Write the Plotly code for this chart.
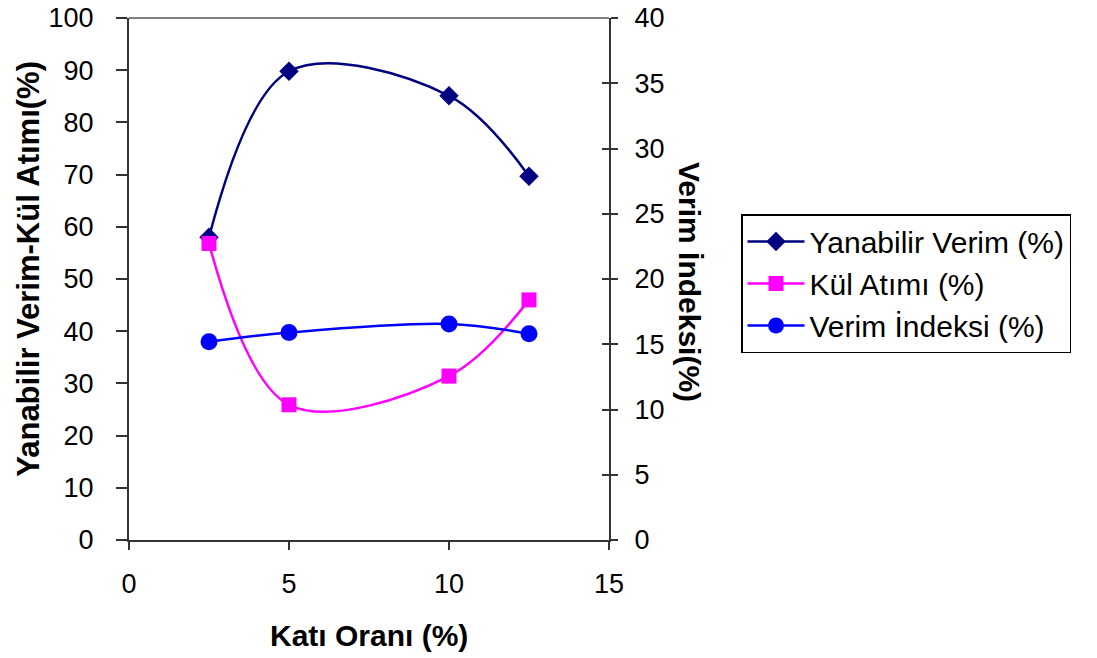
import plotly.graph_objects as go

kati = [2.5, 5, 10, 12.5]
yanabilir = [58.0, 89.8, 85.1, 69.7]
kul = [56.8, 25.9, 31.4, 46.0]
indeks = [15.2, 15.9, 16.55, 15.8]

FONT = "Liberation Sans, Arial, sans-serif"
TICK_FS = 27
TITLE_FS = 30
LEG_FS = 30

fig = go.Figure()
fig.add_trace(go.Scatter(x=kati, y=yanabilir, name="Yanabilir Verim (%)", mode="lines+markers",
                         line=dict(color="#000080", width=2.5, shape="spline", smoothing=1),
                         marker=dict(symbol="diamond", size=15, color="#000080"),
                         legendgroup="a", yaxis="y"))
fig.add_trace(go.Scatter(x=kati, y=kul, name="Kül Atımı (%)", mode="lines+markers",
                         line=dict(color="#FF00FF", width=2.5, shape="spline", smoothing=1),
                         marker=dict(symbol="square", size=15, color="#FF00FF"),
                         legendgroup="b", yaxis="y"))
fig.add_trace(go.Scatter(x=kati, y=indeks, name="Verim İndeksi (%)", mode="lines+markers",
                         line=dict(color="#0000FF", width=2.5, shape="spline", smoothing=1),
                         marker=dict(symbol="circle", size=17, color="#0000FF"),
                         legendgroup="c", yaxis="y2"))
fig.add_trace(go.Scatter(x=[None], y=[None], yaxis="y3", showlegend=False, hoverinfo="skip"))

axfont = dict(family=FONT, size=TICK_FS, color="black")
fig.update_layout(
    width=1097, height=658,
    margin=dict(l=129, r=488, t=18, b=118, autoexpand=False),
    paper_bgcolor="white", plot_bgcolor="white",
    font=axfont,
    showlegend=True,
    legend=dict(x=1.275, y=0.6245, xanchor="left", yanchor="top",
                bordercolor="black", borderwidth=1.5, bgcolor="white",
                font=dict(family=FONT, size=LEG_FS, color="black"),
                tracegroupgap=0, itemwidth=57),
    xaxis=dict(range=[0, 15], tickvals=[0, 5, 10, 15], showgrid=False, zeroline=False,
               automargin=False,
               showline=True, linecolor="#333333", linewidth=2,
               ticks="outside", ticklen=8, tickwidth=1.5, tickcolor="#333333",
               tickfont=axfont, ticklabelstandoff=11),
    yaxis=dict(range=[0, 100], dtick=10, showgrid=False, zeroline=False,
               automargin=False,
               showline=True, linecolor="#333333", linewidth=2,
               ticks="outside", ticklen=11, tickwidth=1.5, tickcolor="#333333",
               tickfont=axfont, ticklabelstandoff=17),
    yaxis2=dict(range=[0, 40], dtick=5, overlaying="y", side="right", showgrid=False,
                automargin=False,
                zeroline=False, showline=True, linecolor="#333333", linewidth=2,
                ticks="outside", ticklen=7, tickwidth=1.5, tickcolor="#333333",
                tickfont=axfont, ticklabelstandoff=11),
    yaxis3=dict(range=[0, 40], dtick=5, overlaying="y", side="right", showgrid=False,
                automargin=False,
                zeroline=False, showline=False, ticks="inside", ticklen=7, tickwidth=1.5,
                tickcolor="#333333", showticklabels=False),
    shapes=[dict(type="line", xref="paper", yref="paper", x0=0, x1=1, y0=1, y1=1,
                 line=dict(color="#808080", width=2))],
    annotations=[
        dict(text="<b>Katı Oranı (%)</b>", xref="paper", yref="paper", x=0.5, y=-0.182,
             xanchor="center", yanchor="middle", showarrow=False,
             font=dict(family=FONT, size=TITLE_FS, color="black")),
        dict(text="<b>Yanabilir Verim-Kül Atımı(%)</b>", xref="paper", yref="paper",
             x=-0.21, y=0.52, xanchor="center", yanchor="middle", showarrow=False,
             textangle=-90, font=dict(family=FONT, size=31, color="black")),
        dict(text="<b>Verim İndeksi(%)</b>", xref="paper", yref="paper",
             x=1.169, y=0.494, xanchor="center", yanchor="middle", showarrow=False,
             textangle=90, font=dict(family=FONT, size=TITLE_FS, color="black")),
    ],
)

fig.write_html("out.html")
